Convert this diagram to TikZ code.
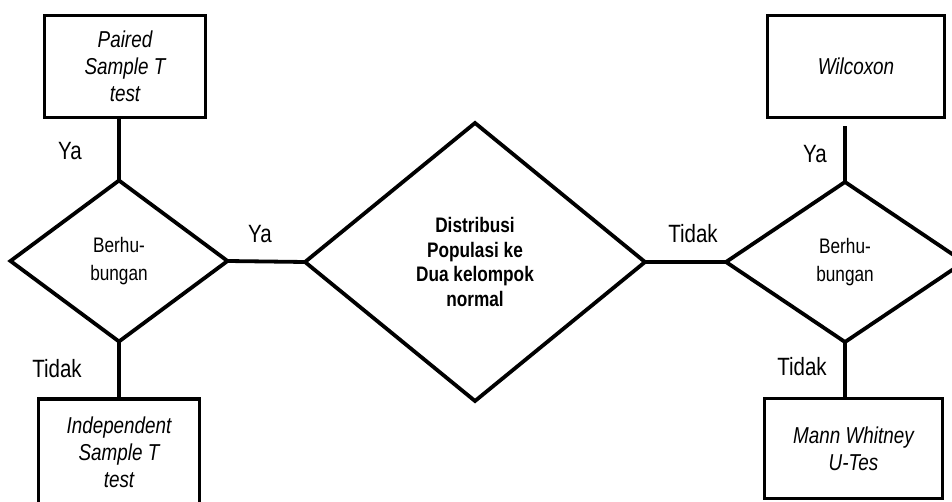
\documentclass[tikz,border=0pt]{standalone}
\usepackage{fontspec}
\setmainfont{Liberation Sans}[FakeStretch=0.82]
\usetikzlibrary{shapes.geometric}
\begin{document}
\begin{tikzpicture}[x=1pt,y=-1pt, line width=3.8pt,
  every node/.style={outer sep=0pt},
  box/.style={draw, rectangle, inner sep=0pt, align=center, font=\fontsize{23}{27}\selectfont\itshape},
  dia/.style={draw, diamond, inner sep=0pt, align=center},
  lab/.style={anchor=base, inner sep=0pt, font=\fontsize{25}{30}\selectfont}]
\path[use as bounding box, clip] (0,0) rectangle (952,502);
\fill[white] (0,0) rectangle (952,502);
% boxes
\node[box, minimum width=161pt, minimum height=102pt] (ptop) at (125,66.5) {Paired\\Sample T\\test};
\node[box, minimum width=161pt, minimum height=106pt] (pbot) at (119,452) {Independent\\Sample T\\test};
\node[box, minimum width=177pt, minimum height=102pt] (wil) at (856,66.5) {Wilcoxon};
\node[box, minimum width=178pt, minimum height=100pt] (mann) at (853.5,448.5) {Mann Whitney\\U-Tes};
% diamonds
\node[dia, minimum width=217pt, minimum height=161pt, font=\fontsize{21}{28}\selectfont] (ldia) at (119,261) {Berhu-\\bungan};
\node[dia, minimum width=340pt, minimum height=278pt, font=\fontsize{21}{24.5}\selectfont\bfseries] (cdia) at (475,262) {Distribusi\\Populasi ke\\Dua kelompok\\normal};
\node[dia, minimum width=238pt, minimum height=160pt, font=\fontsize{21}{28}\selectfont] (rdia) at (845,262) {Berhu-\\bungan};
% connectors
\coordinate (wend) at (845,126);
\draw (ldia.north) -- (ldia.north |- ptop.south);
\draw (ldia.south) -- (ldia.south |- pbot.north);
\draw (ldia.east) -- (cdia.west);
\draw (cdia.east) -- (rdia.west);
\draw (rdia.north) -- (wend);
\draw (rdia.south) -- (rdia.south |- mann.north);
% labels
\node[lab] (l1) at (70,160) {Ya};
\node[lab] (l2) at (57,377) {Tidak};
\node[lab] (l3) at (260,243) {Ya};
\node[lab] (l4) at (693,243) {Tidak};
\node[lab] (l5) at (815,163) {Ya};
\node[lab] (l6) at (802,375) {Tidak};
\end{tikzpicture}
\end{document}
